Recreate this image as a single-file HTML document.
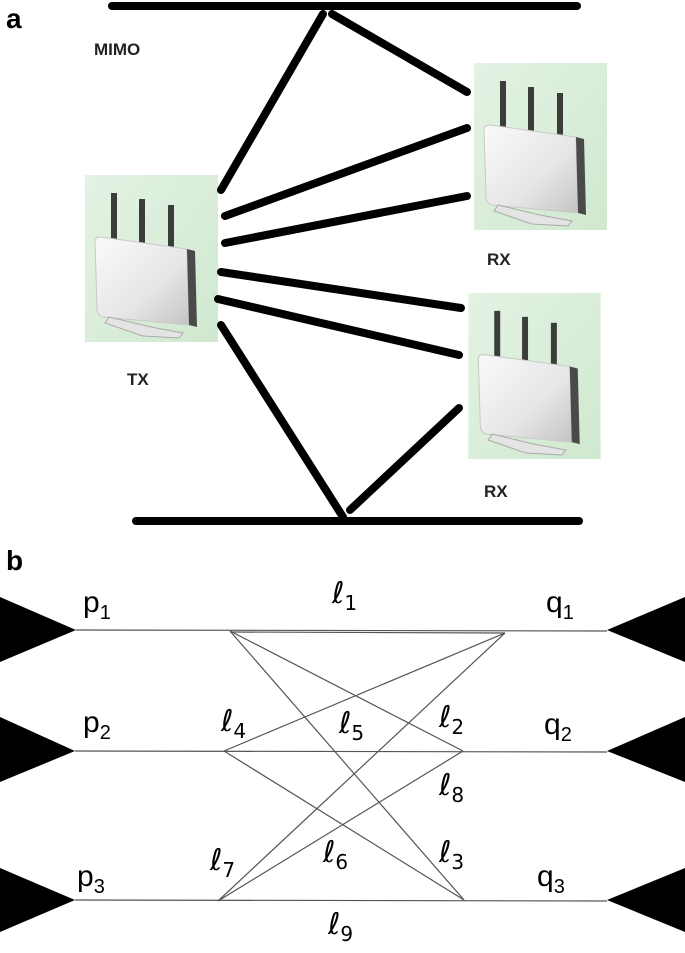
<!DOCTYPE html>
<html><head><meta charset="utf-8"><style>
html,body{margin:0;padding:0;background:#fff;}
svg{display:block;}
</style></head><body>
<svg width="685" height="953" viewBox="0 0 685 953" xmlns="http://www.w3.org/2000/svg">
<defs>
<linearGradient id="bg" x1="0" y1="0" x2="1" y2="1"><stop offset="0" stop-color="#e4f3e4"/><stop offset="1" stop-color="#cfe8cf"/></linearGradient>
<linearGradient id="bd" x1="0" y1="0" x2="1" y2="1"><stop offset="0" stop-color="#fafafa"/><stop offset="0.6" stop-color="#e6e6e6"/><stop offset="1" stop-color="#c4c4c4"/></linearGradient>
<symbol id="router" viewBox="0 0 133 167">
<rect x="0" y="0" width="133" height="167" fill="url(#bg)"/>
<rect x="26" y="18" width="6" height="58" fill="#3a3d3a"/>
<rect x="54" y="24" width="6" height="54" fill="#3a3d3a"/>
<rect x="83" y="30" width="6" height="50" fill="#3a3d3a"/>
<path d="M10 66 Q10 62 16 62 L102 74 L104 150 L18 142 Q12 140 12 134 Z" fill="url(#bd)" stroke="#c8c8c8" stroke-width="1"/>
<path d="M102 74 L110 76 L112 152 L104 150 Z" fill="#4a4a4a"/>
<path d="M24 142 L66 152 L98 158 L94 163 L58 161 L20 148 Z" fill="#e4e4e4" stroke="#aaa" stroke-width="1"/>
</symbol>
</defs>
<!-- part a -->
<text x="6" y="28" font-family="Liberation Sans, sans-serif" font-weight="bold" font-size="28">a</text>
<use href="#router" x="85" y="175" width="133" height="167"/>
<use href="#router" x="474" y="63" width="133" height="167"/>
<use href="#router" x="467" y="293" width="135" height="166"/>
<g stroke="#000" stroke-width="8" stroke-linecap="round" fill="none">
<line x1="112" y1="6" x2="577" y2="6"/>
<line x1="136" y1="521" x2="579" y2="521"/>
<line x1="323" y1="14" x2="221" y2="190"/>
<line x1="332" y1="14" x2="467" y2="92"/>
<line x1="225" y1="216" x2="467" y2="128"/>
<line x1="225" y1="243" x2="467" y2="196"/>
<line x1="221" y1="272" x2="461" y2="308"/>
<line x1="218" y1="299" x2="459" y2="355"/>
<line x1="221" y1="325" x2="343" y2="517"/>
<line x1="350" y1="510" x2="459" y2="408"/>
</g>
<g font-family="Liberation Sans, sans-serif" font-weight="bold" font-size="17" fill="#222">
<text x="94" y="55">MIMO</text>
<text x="127" y="385">TX</text>
<text x="487" y="265">RX</text>
<text x="484" y="497">RX</text>
</g>
<!-- part b -->
<text x="6" y="570" font-family="Liberation Sans, sans-serif" font-weight="bold" font-size="28">b</text>
<g fill="#000">
<polygon points="0,597 76,630 0,662"/>
<polygon points="0,717 75,751 0,782"/>
<polygon points="0,868 75,900 0,932"/>
<polygon points="685,597 607,630 685,662"/>
<polygon points="685,717 607,751 685,782"/>
<polygon points="685,868 607,900 685,932"/>
</g>
<g stroke="#555" stroke-width="1.2" fill="none">
<line x1="76" y1="630" x2="607" y2="631"/>
<line x1="230" y1="632" x2="505" y2="633"/>
<line x1="75" y1="751" x2="607" y2="752"/>
<line x1="75" y1="900" x2="607" y2="901"/>
<line x1="230" y1="631" x2="463" y2="751"/>
<line x1="230" y1="631" x2="464" y2="900"/>
<line x1="505" y1="633" x2="224" y2="751"/>
<line x1="505" y1="633" x2="218" y2="901"/>
<line x1="224" y1="751" x2="464" y2="900"/>
<line x1="463" y1="751" x2="218" y2="901"/>
</g>
<g font-family="Liberation Sans, DejaVu Sans, sans-serif" font-size="30" fill="#000">
<text x="83" y="612">p<tspan font-size="20" dy="7">1</tspan></text>
<text x="83" y="732">p<tspan font-size="20" dy="7">2</tspan></text>
<text x="77" y="886">p<tspan font-size="20" dy="7">3</tspan></text>
<text x="546" y="612">q<tspan font-size="20" dy="7">1</tspan></text>
<text x="544" y="734">q<tspan font-size="20" dy="7">2</tspan></text>
<text x="537" y="886">q<tspan font-size="20" dy="7">3</tspan></text>
</g>
<g font-family="DejaVu Sans, sans-serif" font-size="30" fill="#000">
<text x="332" y="603">ℓ<tspan font-size="20" dy="7">1</tspan></text>
<text x="221" y="731">ℓ<tspan font-size="20" dy="7">4</tspan></text>
<text x="339" y="733">ℓ<tspan font-size="20" dy="7">5</tspan></text>
<text x="439" y="727">ℓ<tspan font-size="20" dy="7">2</tspan></text>
<text x="439" y="795">ℓ<tspan font-size="20" dy="7">8</tspan></text>
<text x="210" y="870">ℓ<tspan font-size="20" dy="7">7</tspan></text>
<text x="323" y="862">ℓ<tspan font-size="20" dy="7">6</tspan></text>
<text x="439" y="862">ℓ<tspan font-size="20" dy="7">3</tspan></text>
<text x="328" y="934">ℓ<tspan font-size="20" dy="7">9</tspan></text>
</g>
</svg>
</body></html>
